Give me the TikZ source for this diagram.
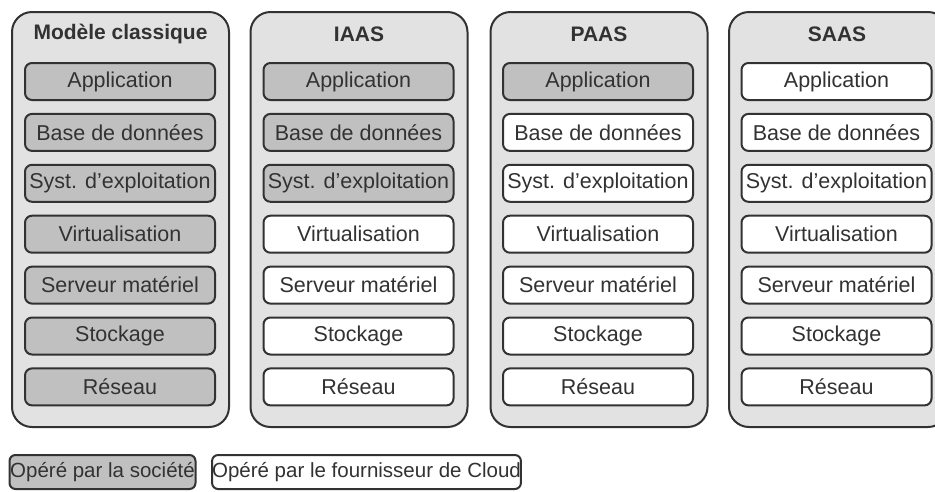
\documentclass[tikz,border=0pt]{standalone}
\usepackage{fontspec}
\setmainfont{Liberation Sans}
\definecolor{panelfill}{RGB}{226,226,226}
\definecolor{opfill}{RGB}{192,192,192}
\definecolor{edgecol}{RGB}{50,50,50}
\definecolor{txtcol}{RGB}{50,50,50}
\tikzset{
  panel/.style={draw=edgecol, line width=2pt, fill=panelfill, rounded corners=20pt,
    minimum width=217pt, minimum height=415pt, inner sep=0pt},
  layerbox/.style={draw=edgecol, line width=2pt, rounded corners=7pt,
    minimum width=190pt, minimum height=37pt, inner sep=0pt, text=txtcol,
    font=\fontsize{21.5}{25}\selectfont},
  ours/.style={layerbox, fill=opfill},
  theirs/.style={layerbox, fill=white},
  ptitle/.style={text=txtcol, font=\fontsize{21}{25}\selectfont\bfseries, inner sep=0pt},
  legbox/.style={draw=edgecol, line width=2pt, rounded corners=6pt, minimum height=34pt,
    inner sep=0pt, text=txtcol, font=\fontsize{20.5}{24}\selectfont}
}
\begin{document}
\begin{tikzpicture}[x=1pt, y=-1pt]
\useasboundingbox (0,0) rectangle (935,491);
% panels
\node[panel] (p1) at (120.5,219.5) {};
\node[panel] (p2) at (359,219.5) {};
\node[panel] (p3) at (599,219.5) {};
\node[panel, minimum width=219pt] (p4) at (838.5,219.5) {};
% titles
\node[ptitle] (t1) at (120.5,34) {Modèle classique};
\node[ptitle] (t2) at (359,34) {IAAS};
\node[ptitle] (t3) at (599,34) {PAAS};
\node[ptitle] (t4) at (837,34) {SAAS};
% column 1
\node[ours] (a1) at (120,81.5) {Application};
\node[ours] (b1) at (120,132.4) {Base de données};
\node[ours] (c1) at (120,183.3) {Syst. d'exploitation};
\node[ours] (d1) at (120,234.2) {Virtualisation};
\node[ours] (e1) at (120,285.1) {Serveur matériel};
\node[ours] (f1) at (120,336) {Stockage};
\node[ours] (g1) at (120,386.9) {Réseau};
% column 2
\node[ours] (a2) at (358.5,81.5) {Application};
\node[ours] (b2) at (358.5,132.4) {Base de données};
\node[ours] (c2) at (358.5,183.3) {Syst. d'exploitation};
\node[theirs] (d2) at (358.5,234.2) {Virtualisation};
\node[theirs] (e2) at (358.5,285.1) {Serveur matériel};
\node[theirs] (f2) at (358.5,336) {Stockage};
\node[theirs] (g2) at (358.5,386.9) {Réseau};
% column 3
\node[ours] (a3) at (598,81.5) {Application};
\node[theirs] (b3) at (598,132.4) {Base de données};
\node[theirs] (c3) at (598,183.3) {Syst. d'exploitation};
\node[theirs] (d3) at (598,234.2) {Virtualisation};
\node[theirs] (e3) at (598,285.1) {Serveur matériel};
\node[theirs] (f3) at (598,336) {Stockage};
\node[theirs] (g3) at (598,386.9) {Réseau};
% column 4
\node[theirs] (a4) at (836.5,81.5) {Application};
\node[theirs] (b4) at (836.5,132.4) {Base de données};
\node[theirs] (c4) at (836.5,183.3) {Syst. d'exploitation};
\node[theirs] (d4) at (836.5,234.2) {Virtualisation};
\node[theirs] (e4) at (836.5,285.1) {Serveur matériel};
\node[theirs] (f4) at (836.5,336) {Stockage};
\node[theirs] (g4) at (836.5,386.9) {Réseau};
% legend
\node[legbox, fill=opfill, minimum width=186pt] (l1) at (102.5,472) {Opéré par la société};
\node[legbox, fill=white, minimum width=308pt] (l2) at (366.5,472) {Opéré par le fournisseur de Cloud};
\end{tikzpicture}
\end{document}
